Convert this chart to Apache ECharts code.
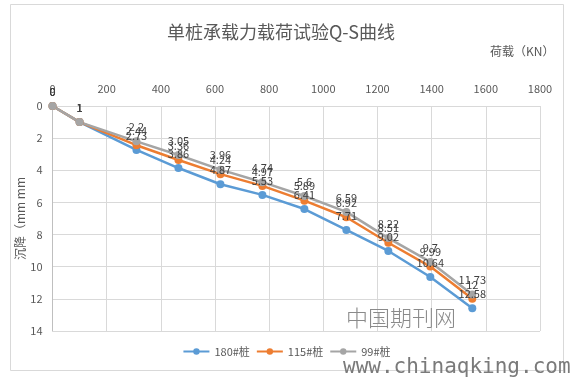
<!DOCTYPE html>
<html>
<head>
<meta charset="utf-8">
<script src="https://cdn.jsdelivr.net/npm/echarts@6/dist/echarts.min.js"></script>
<style>
html,body{margin:0;padding:0;background:#fff;}
#main{width:573px;height:379px;}
</style>
</head>
<body>
<div id="main"></div>
<script>
var titleText = '单桩承载力载荷试验Q-S曲线';
var xName = '荷载（KN）';
var yName = '沉降（mm mm';
var loads = [0, 100, 310, 465, 620, 775, 930, 1085, 1240, 1395, 1550];
var s180 = [0, 1, 2.73, 3.86, 4.87, 5.53, 6.41, 7.71, 9.02, 10.64, 12.58];
var s115 = [0, 1, 2.44, 3.36, 4.24, 4.97, 5.89, 6.92, 8.51, 9.99, 12];
var s99 = [0, 1, 2.2, 3.05, 3.96, 4.74, 5.6, 6.59, 8.22, 9.7, 11.73];
var seriesNames = ['180#桩', '115#桩', '99#桩'];
var colors = ['#5B9BD5', '#ED7D31', '#A5A5A5'];

var FONT = '"Noto Sans CJK SC", "Noto Sans", sans-serif';
function pairs(vals) { return loads.map(function (x, i) { return [x, vals[i]]; }); }
function mk(name, vals, color) {
  return {
    name: name, type: 'line', data: pairs(vals),
    symbol: 'circle', symbolSize: 8,
    lineStyle: { color: color, width: 2.5 },
    itemStyle: { color: color },
    label: { show: true, position: 'top', distance: 5, color: '#404040', fontSize: 11, fontFamily: FONT },
    emphasis: { disabled: true },
    animation: false
  };
}
var chart = echarts.init(document.getElementById('main'));
chart.setOption({
  backgroundColor: '#fff',
  animation: false,
  title: {
    text: titleText, left: 276, top: 18, textAlign: 'center',
    textStyle: { fontSize: 18, fontWeight: 'normal', color: '#595959', fontFamily: FONT }
  },
  legend: {
    data: seriesNames, bottom: 17, left: 'center',
    itemWidth: 26, itemHeight: 8, itemGap: 6,
    textStyle: { fontSize: 11, color: '#595959', fontFamily: FONT }
  },
  grid: { left: 52.5, right: 33, top: 106, bottom: 48, containLabel: false },
  xAxis: {
    type: 'value', position: 'top', min: 0, max: 1800, interval: 200,
    axisLine: { show: true, lineStyle: { color: '#D9D9D9' } },
    axisTick: { show: false },
    axisLabel: { color: '#595959', fontSize: 11, margin: 12, fontFamily: FONT, formatter: function (v) { return String(v); } },
    splitLine: { show: true, lineStyle: { color: '#D9D9D9' } }
  },
  yAxis: {
    type: 'value', inverse: true, min: 0, max: 14, interval: 2,
    name: yName, nameLocation: 'middle', nameGap: 26, nameMoveOverlap: false,
    nameTextStyle: { color: '#595959', fontSize: 12, fontFamily: FONT },
    axisLine: { show: true, lineStyle: { color: '#BFBFBF' } },
    axisTick: { show: false },
    axisLabel: { color: '#595959', fontSize: 11, margin: 10, fontFamily: FONT },
    splitLine: { show: true, lineStyle: { color: '#D9D9D9' } }
  },
  graphic: [
    { type: 'rect', shape: { x: 10.5, y: 4.5, width: 553, height: 366 }, style: { fill: 'none', stroke: '#D9D9D9', lineWidth: 1 }, silent: true },
    { type: 'text', left: 490, top: 45, style: { text: xName, fill: '#595959', fontSize: 12, fontFamily: FONT } },
    { type: 'text', left: 346, top: 307, z: 100, style: { text: '中国期刊网', fill: '#8a8a8a', fontSize: 22, fontFamily: '"Noto Sans CJK SC"', fontWeight: 300, letterSpacing: 2 } },
    { type: 'text', left: 343, top: 357, z: 100, style: { text: 'www.chinaqking.com', fill: '#7a7a7a', fontSize: 21, fontFamily: '"DejaVu Sans Mono", monospace' } }
  ],
  series: [mk(seriesNames[0], s180, colors[0]), mk(seriesNames[1], s115, colors[1]), mk(seriesNames[2], s99, colors[2])]
});
</script>
</body>
</html>
